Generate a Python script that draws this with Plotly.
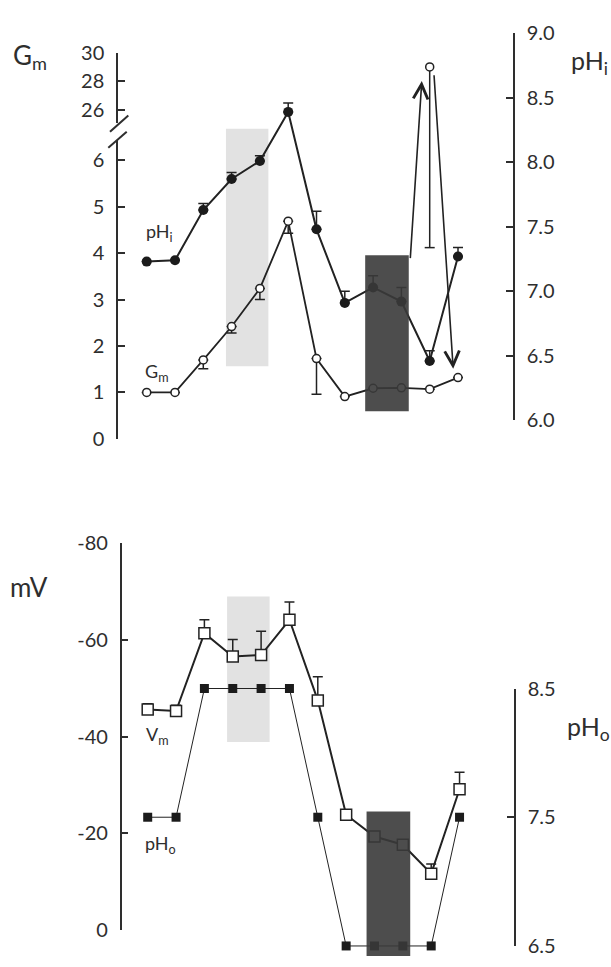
import plotly.graph_objects as go

W, H = 611, 967

# ---------------- data ----------------
steps = list(range(1, 13))

ph_i = [7.23, 7.24, 7.63, 7.87, 8.01, 8.39, 7.48, 6.91, 7.03, 6.92, 6.46, 7.27]
ph_i_err = [0, 0, 0.05, 0.05, 0.04, 0.07, 0.14, 0.09, 0.09, 0.11, 0.08, 0.07]

g_m = [1.00, 1.00, 1.70, 2.42, 3.24, 4.69, 1.73, 0.91, 1.09, 1.10, 1.07, 1.32]
g_m_err = [0, 0, 0.19, 0.14, 0.24, 0.26, 0.77, 0, 0, 0, 0, 0]

g_m_peak_step = [11]
g_m_peak = [29.0]
g_m_peak_low = [4.12]          # lower end of its error bar

v_m = [-45.6, -45.3, -61.4, -56.6, -56.9, -64.2, -47.5, -23.8, -19.3, -17.6, -11.6, -29.1]
v_m_err = [1.2, 1.2, 2.8, 3.5, 4.9, 3.7, 4.9, 1.0, 0.8, 0.8, 2.0, 3.5]

ph_o = [7.5, 7.5, 8.5, 8.5, 8.5, 8.5, 7.5, 6.5, 6.5, 6.5, 6.5, 7.5]

gm_low_ticks = [0, 1, 2, 3, 4, 5, 6]
gm_high_ticks = [26, 28, 30]
ph_i_ticks = [6.0, 6.5, 7.0, 7.5, 8.0, 8.5, 9.0]
mv_ticks = [0, -20, -40, -60, -80]
mv_tick_text = ["0", "-20", "-40", "-60", "-80"]
ph_o_ticks = [6.5, 7.5, 8.5]

# shaded periods (in step units) and their vertical extents
light_steps = [3.8, 5.3]
dark_steps = [8.72, 10.26]
light_top_phi = [6.42, 8.26]
dark_top_phi = [6.07, 7.28]
light_bot_mv = [-38.9, -69.0]
dark_bot_pho_top = 7.545

# arrows: (from step, from Gm) -> (to step, to Gm)
arrow_up = [(10, 1.10), (10.72, 28.0)]
arrow_down = [(11.15, 28.0), (11.83, 1.51)]

# ---------------- geometry (pixels) ----------------
def fx(px):
    return px / W

def fy(px):
    return 1 - px / H

# top panel
T_LEFT, T_RIGHT = 117.0, 514.0
T_X0, T_DX = 146.7, 28.3
GL_BOT_PX, GL_PPU, GL_TOP_PX = 436.7, 47.6, 130.0      # lower Gm segment
GH_REF_PX, GH_REF_V, GH_PPU = 99.0, 26.0, 14.575         # upper Gm segment
GH_BOT_PX, GH_TOP_PX = 113.0, 40.7
PHI_BOT_PX, PHI_TOP_PX = 417.7, 20.7

gl_range = [0, (GL_BOT_PX - GL_TOP_PX) / GL_PPU]
gh_range = [GH_REF_V - (GH_BOT_PX - GH_REF_PX) / GH_PPU,
            GH_REF_V + (GH_REF_PX - GH_TOP_PX) / GH_PPU]

# bottom panel
B_LEFT, B_RIGHT = 120.7, 515.0
B_X0, B_DX = 147.7, 28.35
MV_BOT_PX, MV_TOP_PX = 940.0, 544.0
PHO_BOT_PX, PHO_TOP_PX = 956.7, 692.7
PHO_PPU = (PHO_BOT_PX - PHO_TOP_PX) / 2.0
EXT_BOT_PX, EXT_TOP_PX = 967.0, 544.0
pho_ext_range = [6.5 - (EXT_BOT_PX - PHO_BOT_PX) / PHO_PPU,
                 8.5 + (PHO_TOP_PX - EXT_TOP_PX) / PHO_PPU]


def x_range(left, right, x0, dx):
    return [1 + (left - x0) / dx, 1 + (right - x0) / dx]


def top_x_px(s):
    return T_X0 + (s - 1) * T_DX


def gm_px(v):
    if v >= gh_range[0]:
        return GH_REF_PX - (v - GH_REF_V) * GH_PPU
    return GL_BOT_PX - v * GL_PPU


def phi_px(v):
    return PHI_BOT_PX - (v - 6.0) * (PHI_BOT_PX - PHI_TOP_PX) / 3.0


def mv_px(v):
    return MV_BOT_PX - (v / -80.0) * (MV_BOT_PX - MV_TOP_PX)


INK = "#222222"
AX = "#2e2e2e"
FONT = "Lato"
TICKFONT = dict(family=FONT, size=20, color=AX)

fig = go.Figure()

# ---------------- top panel traces ----------------
fig.add_trace(go.Scatter(
    x=steps, y=g_m, xaxis="x", yaxis="y", mode="lines+markers",
    line=dict(color=INK, width=1.8),
    marker=dict(symbol="circle", size=8, color="white", line=dict(color=INK, width=1.5)),
    error_y=dict(type="data", symmetric=False, array=[0] * 12, arrayminus=g_m_err,
                 color=INK, thickness=1.5, width=5),
    cliponaxis=False, showlegend=False, hoverinfo="skip"))

fig.add_trace(go.Scatter(
    x=g_m_peak_step, y=g_m_peak, xaxis="x", yaxis="y2", mode="markers",
    marker=dict(symbol="circle", size=8, color="white", line=dict(color=INK, width=1.5)),
    cliponaxis=False, showlegend=False, hoverinfo="skip"))

fig.add_trace(go.Scatter(
    x=steps, y=ph_i, xaxis="x", yaxis="y3", mode="lines+markers",
    line=dict(color=INK, width=2),
    marker=dict(symbol="circle", size=10, color="#1b1b1b"),
    error_y=dict(type="data", symmetric=False, array=ph_i_err, arrayminus=[0] * 12,
                 color=INK, thickness=1.5, width=5),
    cliponaxis=False, showlegend=False, hoverinfo="skip"))

# ---------------- bottom panel traces ----------------
fig.add_trace(go.Scatter(
    x=steps, y=ph_o, xaxis="x2", yaxis="y6", mode="lines+markers",
    line=dict(color=INK, width=1),
    marker=dict(symbol="square", size=9, color="#1b1b1b"),
    cliponaxis=False, showlegend=False, hoverinfo="skip"))

fig.add_trace(go.Scatter(
    x=steps, y=v_m, xaxis="x2", yaxis="y4", mode="lines+markers",
    line=dict(color=INK, width=2),
    marker=dict(symbol="square", size=11, color="white", line=dict(color=INK, width=1.5)),
    error_y=dict(type="data", symmetric=False, array=[0] * 12, arrayminus=v_m_err,
                 color=INK, thickness=1.5, width=5),
    cliponaxis=False, showlegend=False, hoverinfo="skip"))

# empty trace so that the pHo axis has its own subplot
fig.add_trace(go.Scatter(x=[None], y=[None], xaxis="x2", yaxis="y5",
                         showlegend=False, hoverinfo="skip"))

# ---------------- axes ----------------
common_y = dict(showgrid=False, zeroline=False, showline=True, linecolor=AX, linewidth=1.5,
                ticks="inside", ticklen=7, tickwidth=1.5, tickcolor=AX,
                tickfont=TICKFONT, anchor="free", ticklabelstandoff=8)

fig.update_layout(
    width=W, height=H, margin=dict(l=0, r=0, t=0, b=0),
    paper_bgcolor="white", plot_bgcolor="rgba(0,0,0,0)",
    xaxis=dict(domain=[fx(T_LEFT), fx(T_RIGHT)], range=x_range(T_LEFT, T_RIGHT, T_X0, T_DX),
               visible=False, anchor="y"),
    xaxis2=dict(domain=[fx(B_LEFT), fx(B_RIGHT)], range=x_range(B_LEFT, B_RIGHT, B_X0, B_DX),
                visible=False, anchor="y4"),
    yaxis=dict(domain=[fy(GL_BOT_PX), fy(GL_TOP_PX)], range=gl_range,
               tickvals=gm_low_ticks, position=fx(T_LEFT), side="left", **common_y),
    yaxis2=dict(domain=[fy(GH_BOT_PX), fy(GH_TOP_PX)], range=gh_range,
                tickvals=gm_high_ticks, position=fx(T_LEFT), side="left", **common_y),
    yaxis3=dict(domain=[fy(PHI_BOT_PX), fy(PHI_TOP_PX)], range=[6, 9],
                tickvals=ph_i_ticks, tickformat=".1f", position=fx(T_RIGHT), side="right",
                **common_y),
    yaxis4=dict(domain=[fy(MV_BOT_PX), fy(MV_TOP_PX)], range=[0, -80],
                tickvals=mv_ticks, ticktext=mv_tick_text, position=fx(B_LEFT), side="left",
                **common_y),
    yaxis5=dict(domain=[fy(PHO_BOT_PX), fy(PHO_TOP_PX)], range=[6.5, 8.5],
                tickvals=ph_o_ticks, tickformat=".1f", position=fx(B_RIGHT), side="right",
                **common_y),
    yaxis6=dict(domain=[fy(EXT_BOT_PX), fy(EXT_TOP_PX)], range=pho_ext_range,
                visible=False, anchor="x2"),
)

# ---------------- shaded periods ----------------
# light periods go in the lowest layer (paper-referenced), below every trace
fig.add_shape(type="rect", xref="x", yref="paper", x0=light_steps[0], x1=light_steps[1],
              y0=fy(phi_px(light_top_phi[0])), y1=fy(phi_px(light_top_phi[1])),
              fillcolor="#e2e2e2", line=dict(width=0), layer="below")
fig.add_shape(type="rect", xref="x2", yref="paper", x0=light_steps[0], x1=light_steps[1],
              y0=fy(mv_px(light_bot_mv[0])), y1=fy(mv_px(light_bot_mv[1])),
              fillcolor="#e2e2e2", line=dict(width=0), layer="below")
# dark periods sit over the traces, slightly translucent
fig.add_shape(type="rect", xref="x", yref="y3", x0=dark_steps[0], x1=dark_steps[1],
              y0=dark_top_phi[0], y1=dark_top_phi[1], fillcolor="#3a3a3a", opacity=0.9,
              line=dict(width=0), layer="above")
fig.add_shape(type="rect", xref="x2", yref="y6", x0=dark_steps[0], x1=dark_steps[1],
              y0=pho_ext_range[0], y1=dark_bot_pho_top, fillcolor="#3a3a3a", opacity=0.9,
              line=dict(width=0), layer="above")

# ---------------- error bar of the off-scale Gm point (crosses the axis break) ----------------
for s, top, low in zip(g_m_peak_step, g_m_peak, g_m_peak_low):
    fig.add_shape(type="line", xref="x", yref="paper", x0=s, x1=s,
                  y0=fy(gm_px(top)), y1=fy(gm_px(low)),
                  line=dict(color=INK, width=1.5), layer="below")
    half = 5 / T_DX
    fig.add_shape(type="line", xref="x", yref="paper", x0=s - half, x1=s + half,
                  y0=fy(gm_px(low)), y1=fy(gm_px(low)),
                  line=dict(color=INK, width=1.5), layer="below")

# ---------------- arrows ----------------
def add_arrow(tail, head, clip_top_px=None):
    tx, ty = top_x_px(tail[0]), gm_px(tail[1])
    hx, hy = top_x_px(head[0]), gm_px(head[1])
    if clip_top_px is not None and ty > clip_top_px > hy:
        t = (ty - clip_top_px) / (ty - hy)
        tx, ty = tx + t * (hx - tx), clip_top_px
    fig.add_annotation(x=fx(hx), y=fy(hy), xref="paper", yref="paper",
                       ax=tx - hx, ay=ty - hy, axref="pixel", ayref="pixel",
                       showarrow=True, arrowhead=5, arrowsize=1.8, arrowwidth=1.6,
                       arrowcolor=INK, text="")

add_arrow(arrow_up[0], arrow_up[1], clip_top_px=phi_px(dark_top_phi[1]))
add_arrow(arrow_down[0], arrow_down[1])

# ---------------- axis break marks ----------------
for (x0, y0, x1, y1) in [(110.0, 121.7, 128.3, 105.0), (108.3, 138.3, 126.7, 121.7)]:
    fig.add_shape(type="line", xref="paper", yref="paper",
                  x0=fx(x0), y0=fy(y0), x1=fx(x1), y1=fy(y1),
                  line=dict(color=AX, width=2))

# ---------------- text labels ----------------
def label(text, x_px, y_px, size, anchor="left"):
    fig.add_annotation(x=fx(x_px), y=fy(y_px), xref="paper", yref="paper",
                       text=text, showarrow=False, xanchor=anchor, yanchor="middle",
                       font=dict(family=FONT, size=size, color=AX))

label("G<sub>m</sub>", 11, 45, 26)
label("pH<sub>i</sub>", 569, 50, 25)
label("mV", 8, 589, 26)
label("pH<sub>o</sub>", 565, 733, 25)

label("pH<sub>i</sub>", 144, 225, 18)
label("G<sub>m</sub>", 143, 369, 18)
label("V<sub>m</sub>", 144, 741, 18)
label("pH<sub>o</sub>", 143, 853, 18)

fig.write_html("out.html")
